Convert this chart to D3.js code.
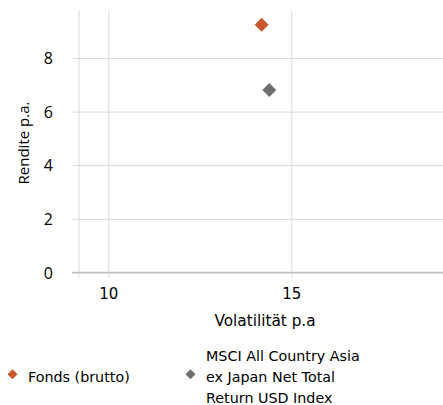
<!DOCTYPE html>
<html>
<head>
<meta charset="utf-8">
<script src="https://cdn.jsdelivr.net/npm/d3@7/dist/d3.min.js"></script>
<style>
  html, body { margin: 0; padding: 0; background: #fff; }
  svg { display: block; }
</style>
</head>
<body>
<svg id="chart" width="443" height="405"></svg>
<script>
// Risk / return scatter: volatility (x) vs. annual return (y)
const seriesNames = ["Fonds (brutto)", "MSCI All Country Asia ex Japan Net Total Return USD Index"];
const legendLines = [["Fonds (brutto)"], ["MSCI All Country Asia", "ex Japan Net Total", "Return USD Index"]];
const volatility = [14.19, 14.40];
const returns = [9.24, 6.80];
const colors = ["#C9572B", "#6F6F6F"];
const xTicks = [10, 15];
const yTicks = [0, 2, 4, 6, 8];
const xDomain = [9.2, 19.2];
const yDomain = [0, 9.75];

const svg = d3.select("#chart");
const plotLeft = 79, plotRight = 445, plotTop = 11, plotBottom = 272.5;

const x = d3.scaleLinear().domain(xDomain).range([plotLeft, plotRight]);
const y = d3.scaleLinear().domain(yDomain).range([plotBottom, plotTop]);

const gridColor = "#D9D9D9";
const tahoma = "'DejaVu Sans', Verdana, sans-serif";
const segoe = "'Open Sans', 'Noto Sans', sans-serif";

// vertical gridlines with outside tick marks
const xGrid = svg.append("g")
  .attr("transform", `translate(0,${plotBottom + 5})`)
  .call(d3.axisBottom(x).tickValues(xTicks).tickSize(-(plotBottom + 5 - plotTop)).tickFormat(""));
xGrid.select(".domain").remove();
xGrid.selectAll("line").attr("stroke", gridColor);

// horizontal gridlines with outside tick marks
const yGrid = svg.append("g")
  .attr("transform", `translate(${plotLeft - 7},0)`)
  .call(d3.axisLeft(y).tickValues(yTicks).tickSize(-(plotRight - plotLeft + 7)).tickFormat(""));
yGrid.select(".domain").remove();
yGrid.selectAll("line").attr("stroke", gridColor);

// y axis line
svg.append("line")
  .attr("x1", plotLeft).attr("x2", plotLeft)
  .attr("y1", plotTop).attr("y2", plotBottom + 5)
  .attr("stroke", gridColor);

// x axis line
svg.append("line")
  .attr("x1", plotLeft - 7).attr("x2", plotRight)
  .attr("y1", plotBottom).attr("y2", plotBottom)
  .attr("stroke", "#BFBFBF").attr("stroke-width", 1.3);

// tick labels
const xLab = svg.append("g")
  .attr("transform", `translate(0,${plotBottom})`)
  .call(d3.axisBottom(x).tickValues(xTicks).tickSize(0).tickPadding(0));
xLab.select(".domain").remove();
xLab.selectAll("text")
  .attr("dy", null).attr("y", 26.8)
  .attr("font-family", tahoma).attr("font-size", "15px").attr("fill", "#000");

const yLab = svg.append("g")
  .attr("transform", `translate(53,0)`)
  .call(d3.axisLeft(y).tickValues(yTicks).tickSize(0).tickPadding(0));
yLab.select(".domain").remove();
yLab.selectAll("text")
  .attr("dy", "0.36em")
  .attr("font-family", segoe).attr("font-size", "16px").attr("fill", "#000");

// axis titles
svg.append("text")
  .attr("x", 265).attr("y", 326)
  .attr("text-anchor", "middle")
  .attr("font-family", tahoma).attr("font-size", "15.3px")
  .text("Volatilität p.a");

svg.append("text")
  .attr("transform", "translate(28.5,143) rotate(-90)")
  .attr("text-anchor", "middle")
  .attr("font-family", segoe).attr("font-size", "15px")
  .text("Rendite p.a.");

// data points (diamonds)
const idx = d3.range(seriesNames.length);
const marker = d3.symbol().type(d3.symbolSquare).size(98);
svg.append("g").selectAll("path")
  .data(idx)
  .join("path")
  .attr("d", marker)
  .attr("transform", i => `translate(${x(volatility[i])},${y(returns[i])}) rotate(45)`)
  .attr("fill", i => colors[i]);

// legend
const legendX = [12.5, 190.5];
const legendMarker = d3.symbol().type(d3.symbolSquare).size(50);
const lg = svg.append("g");
idx.forEach(i => {
  lg.append("path")
    .attr("d", legendMarker)
    .attr("transform", `translate(${legendX[i]},374.3) rotate(45)`)
    .attr("fill", colors[i]);
  const lines = legendLines[i];
  const lh = 21;
  const baseY = 381.7 - (lines.length - 1) / 2 * lh;
  lines.forEach((t, k) => {
    lg.append("text")
      .attr("x", legendX[i] + 15.5)
      .attr("y", baseY + k * lh)
      .attr("font-family", tahoma).attr("font-size", "14.3px")
      .text(t);
  });
});
</script>
</body>
</html>
